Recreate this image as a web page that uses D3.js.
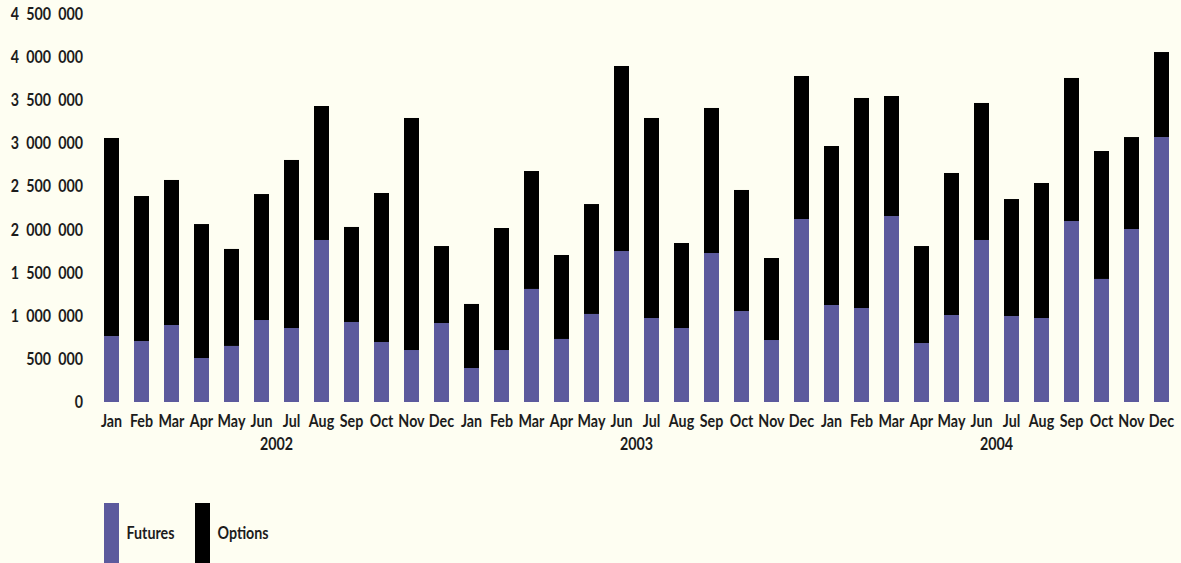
<!DOCTYPE html>
<html>
<head>
<meta charset="utf-8">
<script src="https://cdn.jsdelivr.net/npm/d3@7"></script>
<style>
  html, body { margin: 0; padding: 0; background: #fefef2; }
  svg { display: block; }
  text { font-family: Lato, "Open Sans", sans-serif; font-weight: 700; fill: #1c1c1c; }
</style>
</head>
<body>
<svg id="chart" width="1181" height="563"></svg>
<script>
// Monthly traded contracts, 2002–2004
const months = ["Jan","Feb","Mar","Apr","May","Jun","Jul","Aug","Sep","Oct","Nov","Dec"];
const years = ["2002", "2003", "2004"];

const futures = [
  765000, 707000, 893000, 510000, 650000, 951000, 858000, 1879000, 928000, 696000, 603000, 916000,
  394000, 603000, 1311000, 731000, 1021000, 1751000, 974000, 858000, 1728000, 1055000, 719000, 2122000,
  1125000, 1090000, 2157000, 684000, 1009000, 1879000, 997000, 974000, 2099000, 1427000, 2006000, 3073000
];
const options = [
  2297000, 1682000, 1682000, 1554000, 1125000, 1461000, 1949000, 1554000, 1102000, 1728000, 2691000, 893000,
  743000, 1415000, 1368000, 974000, 1275000, 2146000, 2320000, 986000, 1682000, 1404000, 951000, 1659000,
  1844000, 2436000, 1392000, 1125000, 1647000, 1589000, 1357000, 1566000, 1659000, 1484000, 1067000, 986000
];
const yTicks = [0, 500000, 1000000, 1500000, 2000000, 2500000, 3000000, 3500000, 4000000, 4500000];
const seriesNames = ["Futures", "Options"];
const seriesColors = ["#5c5a9d", "#000000"];

const rows = futures.map((f, i) => ({
  idx: i,
  month: months[i % 12],
  year: years[Math.floor(i / 12)],
  Futures: f,
  Options: options[i]
}));

const svg = d3.select("#chart");
const fontSize = 17;
const squeeze = 0.84;   // narrow the letterforms horizontally

const x = d3.scaleBand()
  .domain(rows.map(d => d.idx))
  .range([96.5, 1176.5])
  .paddingInner(0.5)
  .paddingOuter(0.25);

const y = d3.scaleLinear()
  .domain([0, 4500000])
  .range([402, 14]);

const color = d3.scaleOrdinal().domain(seriesNames).range(seriesColors);

// stacked bars
const stack = d3.stack().keys(seriesNames)(rows);
svg.append("g")
  .selectAll("g")
  .data(stack)
  .join("g")
    .attr("fill", s => color(s.key))
  .selectAll("rect")
  .data(s => s)
  .join("rect")
    .attr("x", d => x(d.data.idx))
    .attr("y", d => y(d[1]))
    .attr("width", x.bandwidth())
    .attr("height", d => y(d[0]) - y(d[1]));

// value axis
const locale = d3.formatLocale({ decimal: ",", thousands: "\u2002", grouping: [3], currency: ["", ""] });
const fmt = locale.format(",d");
const yAxis = svg.append("g")
  .attr("transform", "translate(83,0)")
  .call(d3.axisLeft(y).tickValues(yTicks).tickSize(0).tickPadding(0).tickFormat(fmt));
yAxis.select(".domain").remove();
yAxis.selectAll("text")
  .attr("font-size", fontSize)
  .attr("font-family", null)
  .attr("transform", `scale(${squeeze},1)`);

// month axis
const xAxis = svg.append("g")
  .attr("transform", "translate(0,402)")
  .call(d3.axisBottom(x).tickSize(0).tickPadding(13).tickFormat(i => rows[i].month));
xAxis.select(".domain").remove();
xAxis.selectAll("text")
  .attr("font-size", fontSize)
  .attr("font-family", null)
  .attr("transform", `scale(${squeeze},1)`);

// year labels centred under each group of twelve months
const yearX = k => (x(k * 12 + 5) + x(k * 12 + 6)) / 2 + x.bandwidth() / 2;
svg.append("g")
  .selectAll("text")
  .data(years)
  .join("text")
    .attr("y", 450)
    .attr("text-anchor", "middle")
    .attr("font-size", fontSize)
    .attr("transform", (yr, k) => `translate(${yearX(k)},0) scale(${squeeze},1)`)
    .text(yr => yr);

// legend
const legend = svg.append("g")
  .selectAll("g")
  .data(seriesNames)
  .join("g")
    .attr("transform", (n, i) => `translate(${104 + i * 91},503)`);
legend.append("rect")
  .attr("width", 15)
  .attr("height", 64)
  .attr("fill", n => color(n));
legend.append("text")
  .attr("x", 22.5 / squeeze)
  .attr("y", 36)
  .attr("font-size", fontSize)
  .attr("transform", `scale(${squeeze},1)`)
  .text(n => n);
</script>
</body>
</html>
